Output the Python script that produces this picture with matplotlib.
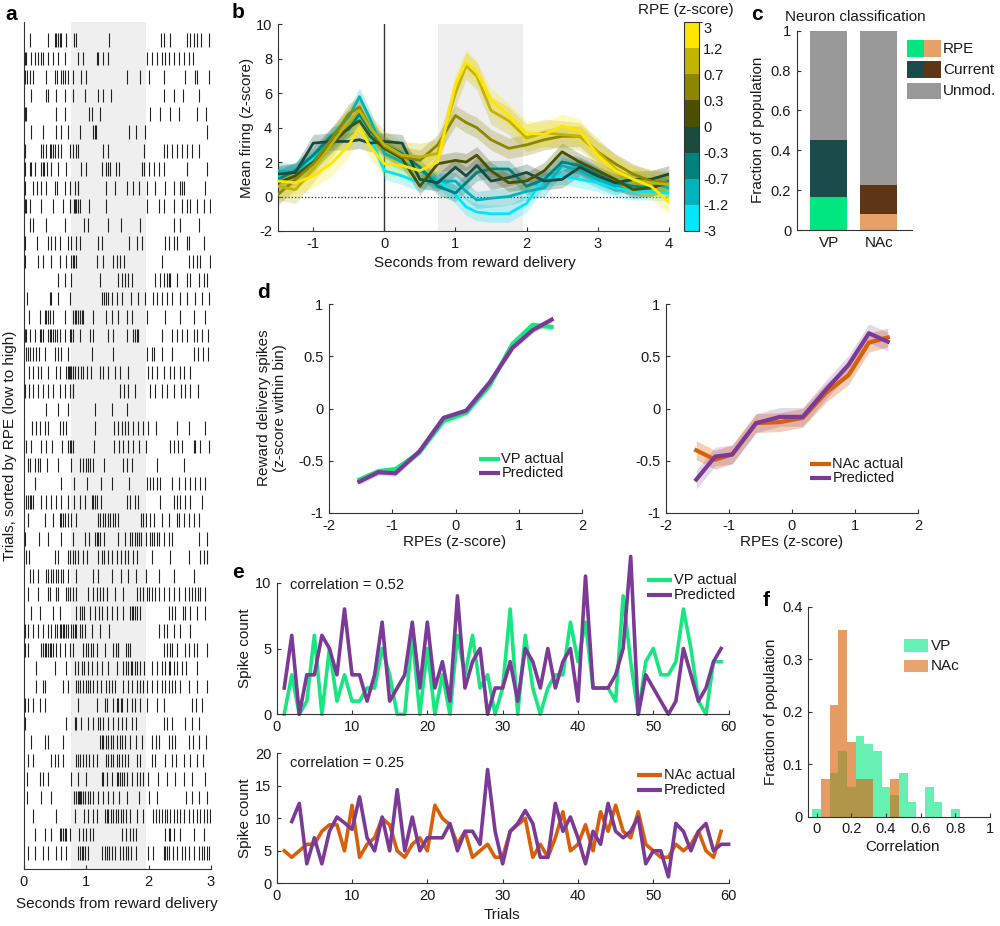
import numpy as np
import matplotlib
matplotlib.use('Agg')
import matplotlib.pyplot as plt
from matplotlib.lines import Line2D
from matplotlib.patches import Rectangle
from matplotlib.colors import ListedColormap, BoundaryNorm
import matplotlib.cm as cm

plt.rcParams['font.family'] = ['Liberation Sans', 'DejaVu Sans']
plt.rcParams['font.size'] = 10
plt.rcParams['axes.unicode_minus'] = False

# ---------------- DATA ----------------
# Panel a: spike times (s) per trial, trials sorted by RPE (top = first)
spike_trials = [
 [0.09,0.38,0.50,0.52,0.55,0.58,0.60,0.68,0.80,0.83,1.37,2.20,2.24,2.35,2.61,2.66,2.72,2.78,2.84,2.97],
 [0.02,0.04,0.12,0.18,0.23,0.27,0.30,0.39,0.47,0.55,0.66,0.86,0.95,1.17,1.19,1.27,1.34,1.97,2.05,2.13,2.21,2.27,2.33,2.40,2.49,2.57,2.64,2.71],
 [0.02,0.05,0.10,0.15,0.36,0.50,0.53,0.60,0.63,0.66,0.71,0.79,0.92,0.99,1.66,1.86,2.00,2.24,2.58,2.74,2.78,2.97],
 [0.12,0.36,0.39,0.51,0.66,0.79,0.98,1.19,1.27,1.40,2.25,2.40,2.55,2.80],
 [0.02,0.04,0.52,0.66,1.05,1.09,1.22,2.02,2.18,2.34,2.49,2.77,2.92],
 [0.12,0.30,0.52,0.60,0.71,0.90,1.11,1.14,1.16,1.69,1.80,1.94,2.94],
 [0.02,0.28,0.31,0.36,0.42,0.44,0.47,0.50,0.55,0.60,0.74,0.79,0.83,0.87,1.26,1.34,1.93,2.24,2.29,2.37,2.45,2.53,2.61,2.69,2.80],
 [0.02,0.09,0.12,0.18,0.28,0.30,0.32,0.37,0.44,0.55,0.68,0.91,0.99,1.25,1.32,1.34,1.38,1.48,1.53,1.89,1.93,2.01,2.08,2.17,2.24,2.62,2.94],
 [0.02,0.14,0.21,0.27,0.36,0.50,0.53,0.66,0.73,0.82,0.86,0.87,1.32,1.46,1.66,1.75,1.85,1.97,2.10,2.26,2.40,2.50,2.53,2.56,2.90],
 [0.02,0.04,0.10,0.27,0.47,0.62,0.74,0.80,0.82,0.84,0.87,0.90,1.05,1.32,1.97,2.17,2.25,2.40,2.53,2.61,2.66,2.77,2.88,2.99],
 [0.09,0.15,0.36,0.66,0.96,1.03,1.35,1.55,1.86,2.41,2.50,2.80],
 [0.02,0.21,0.39,0.44,0.50,0.58,0.71,0.76,0.84,0.90,1.19,1.25,1.69,1.81,1.90,2.26,2.32,2.40,2.45,2.61,2.65,2.89],
 [0.02,0.23,0.31,0.44,0.58,0.68,0.75,0.78,0.80,0.84,1.17,1.27,1.43,1.49,1.54,1.60,2.21,2.65,2.71,2.77,2.82,2.99],
 [0.55,0.66,0.75,1.22,1.50,1.57,1.62,1.67,1.73,2.10,2.18,2.24,2.29,2.32,2.34,2.45,2.61,2.66,2.81,2.89,2.94],
 [0.05,0.41,0.44,0.55,0.74,1.25,1.28,1.32,1.35,1.41,1.49,1.57,1.71,1.83,1.94,2.07,2.14,2.21,2.29,2.37,2.50,2.61,2.74,2.85,2.97],
 [0.08,0.26,0.34,0.36,0.39,0.42,0.47,0.66,0.78,0.82,0.84,0.87,0.90,0.93,0.95,1.11,1.31,1.41,1.50,1.65,1.73,1.98,2.26,2.50,2.72,2.90],
 [0.02,0.04,0.10,0.18,0.26,0.28,0.31,0.39,0.42,0.44,0.47,0.50,0.53,0.58,0.66,0.74,0.76,0.79,0.90,1.06,1.11,1.35,1.43,1.65,1.75,1.78,1.81,1.83,2.21,2.37,2.45,2.53,2.61,2.72,2.77,2.85,2.95],
 [0.03,0.06,0.10,0.15,0.19,0.24,0.33,0.50,0.55,0.60,0.70,1.09,1.43,1.97,2.05,2.09,2.21,2.38,2.72,2.79,2.87,2.95],
 [0.08,0.15,0.23,0.27,0.39,0.52,0.58,0.68,0.70,0.72,0.74,0.75,0.78,0.82,0.87,0.91,0.95,1.01,1.07,1.22,1.27,1.34,1.46,1.54,1.67,1.99,2.06,2.14,2.25,2.34,2.41,2.50,2.56,2.66],
 [0.02,0.08,0.15,0.23,0.31,0.39,0.47,0.58,0.66,0.74,0.78,0.79,1.54,1.61,1.67,1.78,2.02,2.10,2.21,2.29,2.40,2.52,2.58,2.66,2.79],
 [0.36,0.55,0.71,1.14,1.41,1.65],
 [0.13,0.19,0.26,0.33,0.39,0.58,0.63,0.68,1.14,1.45,1.51,1.57,1.62,1.67,1.75,1.83,1.91,1.99,2.11,2.46,2.64,2.90],
 [0.04,0.11,0.27,0.36,0.45,0.61,0.71,0.74,0.76,0.79,1.13,1.45,1.52,1.59,1.67,1.75,1.84,1.95,2.34,2.40,2.47,2.54,2.72,2.75,2.82,2.97],
 [0.06,0.10,0.18,0.22,0.26,0.37,0.55,0.75,0.90,0.95,0.99,1.02,1.06,1.11,1.29,1.59,1.65,1.73,2.14,2.56],
 [0.18,0.59,0.81,1.01,1.24,1.41,1.68,1.98,2.02,2.07,2.13,2.18,2.37,2.49,2.58,2.66,2.74,2.82,2.91],
 [0.03,0.06,0.10,0.12,0.15,0.28,0.36,0.44,0.52,0.60,0.71,0.81,0.90,0.98,1.09,1.11,1.14,1.17,1.24,1.65,1.70,1.78,1.83,2.18,2.40,2.45,2.50,2.58,2.66,2.85],
 [0.06,0.34,0.47,0.58,0.60,0.63,0.66,0.71,0.76,0.84,1.18,1.22,1.26,1.30,1.34,1.38,1.42,1.46,1.51,1.88,1.91,1.95,2.02,2.09,2.21,2.32,2.45,2.49,2.56,2.64,2.72,2.80],
 [0.02,0.24,0.39,0.60,0.79,0.98,1.04,1.14,1.17,1.19,1.22,1.29,1.51,1.62,1.70,1.74,1.78,1.82,1.84,1.88,1.95,2.02,2.05,2.09,2.13,2.17,2.24,2.32,2.37,2.80,2.93],
 [0.03,0.08,0.49,0.55,0.70,0.74,0.78,0.82,0.87,0.95,1.01,1.19,1.25,1.29,1.34,1.41,1.49,1.56,1.62,1.67,1.75,1.82,2.05,2.34,2.64,2.82,2.88,2.93],
 [0.10,0.15,0.22,0.35,0.39,0.43,0.47,0.51,0.55,0.59,0.63,0.71,0.84,1.11,1.19,1.41,1.56,1.67,1.79,1.95,2.17,2.40,2.73],
 [0.06,0.23,0.39,0.42,0.52,0.55,0.68,0.71,0.74,0.78,0.84,1.03,1.10,1.17,1.22,1.27,1.33,1.46,1.59,1.81,1.86,1.91,1.97,2.01,2.05,2.10,2.17,2.24,2.32,2.40,2.48,2.58,2.64,2.69,2.74,2.79,2.82,2.90],
 [0.12,0.26,0.47,0.58,0.83,0.90,0.93,0.96,1.06,1.14,1.21,1.25,1.33,1.41,1.49,1.59,1.70,1.73,1.75,1.78,1.81,1.86,2.32,2.37,2.43,2.55,2.58,2.66,2.77,2.90],
 [0.02,0.07,0.15,0.23,0.30,0.39,0.44,0.50,0.53,0.57,0.59,0.62,0.64,0.67,0.71,0.75,0.78,0.82,0.84,0.90,0.93,0.98,1.09,1.22,1.37,2.17,2.24,2.29,2.40,2.50,2.66],
 [0.02,0.07,0.28,0.31,0.34,0.36,0.39,0.42,0.44,0.47,0.51,0.58,0.66,0.74,0.79,0.95,0.99,1.03,1.07,1.11,1.17,1.30,1.43,1.48,1.50,1.51,1.64,1.67,1.70,2.25,2.29,2.34,2.38,2.45,2.58,2.64,2.72,2.77,2.94],
 [0.19,0.50,0.68,0.82,0.86,0.93,0.96,1.02,1.09,1.17,1.25,1.35,1.49,1.59,1.64,1.67,1.71,1.74,1.78,1.81,1.86,1.93,2.05,2.14,2.22,2.26,2.32,2.35,2.40,2.45,2.53,2.60,2.77],
 [0.19,0.31,0.34,0.63,0.71,0.83,0.87,0.90,0.95,0.99,1.02,1.06,1.10,1.17,1.23,1.32,1.37,1.41,1.46,1.59,1.67,1.74,1.81,1.86,1.91,1.98,2.05,2.13,2.21,2.26,2.32,2.37,2.42,2.50,2.64,2.77,2.93],
 [0.02,0.07,0.15,0.25,0.34,0.86,1.17,1.30,1.33,1.43,1.49,1.51,1.55,1.58,1.65,1.73,1.78,1.86,1.97,2.13,2.24,2.69,2.76,2.85],
 [0.02,0.67,0.82,0.84,0.92,1.02,1.10,1.18,1.22,1.27,1.35,1.43,1.50,1.57,1.64,1.73,1.80,2.24,2.29,2.37,2.58,2.69,2.81],
 [0.11,0.34,0.39,0.63,1.22,1.25,1.27,1.32,1.35,1.39,1.43,1.49,1.54,1.58,1.62,1.70,1.80,1.89,2.05,2.12,2.17,2.32,2.37,2.42,2.65,2.71,2.81,2.92],
 [0.07,0.15,0.44,0.50,0.55,0.63,0.83,0.87,0.90,0.94,0.99,1.05,1.10,1.17,1.32,1.35,1.39,1.43,1.49,1.53,1.58,1.62,1.67,1.81,1.86,2.05,2.10,2.26,2.37,2.44,2.56,2.66,2.77,2.87],
 [0.05,0.26,0.31,0.39,0.76,0.87,0.99,1.25,1.27,1.33,1.41,1.49,1.51,1.54,1.57,1.60,1.65,1.73,1.81,1.86,1.91,1.99,2.15,2.29,2.42,2.56,2.69,2.90],
 [0.05,0.27,0.43,0.80,0.83,0.86,0.88,0.90,0.92,0.95,0.98,1.02,1.06,1.11,1.18,1.26,1.34,1.43,1.53,1.65,1.85,2.01,2.14,2.60,2.69,2.80,2.93],
 [0.15,0.52,0.82,0.96,1.03,1.10,1.17,1.30,1.33,1.35,1.39,1.43,1.48,1.51,1.55,1.59,1.64,1.70,1.81,1.91,2.07,2.12,2.17,2.22,2.26,2.30,2.34,2.40,2.45,2.50,2.57,2.64,2.71,2.77,2.82,2.88,2.93,2.98],
 [0.18,0.34,0.44,0.58,0.60,0.63,0.66,0.68,0.73,0.89,0.94,0.99,1.06,1.10,1.57,1.64,1.70,1.75,1.80,2.26,2.32,2.35,2.40,2.50,2.72,2.89],
 [0.07,0.18,0.30,0.39,0.52,0.60,0.67,0.86,0.90,0.93,0.95,0.98,1.02,1.25,1.30,1.33,1.37,1.41,1.46,1.54,1.59,1.64,1.67,1.71,1.80,1.99,2.07,2.24,2.26,2.29,2.32,2.39,2.45,2.53,2.58,2.64,2.72,2.80,2.85,2.89,2.93,2.97],
]
reward_window = [0.75, 1.95]

# Panel b: mean firing per RPE bin (top band first)
b_time = [-1.5,-1.25,-1.0,-0.75,-0.5,-0.35,-0.2,0.0,0.25,0.5,0.75,1.0,1.15,1.3,1.5,1.75,2.0,2.25,2.5,2.75,3.0,3.25,3.5,3.75,4.0]
b_rpe_high  = [0.9,0.8,1.2,1.9,3.0,4.0,2.9,1.9,1.8,1.5,2.0,6.5,7.8,7.2,5.6,4.7,3.7,3.6,4.1,3.8,2.4,1.5,1.0,0.6,-0.3]
b_rpe_1p2   = [0.6,0.4,1.6,3.0,4.4,5.0,4.0,3.0,2.4,2.3,2.5,6.0,7.6,7.0,5.0,4.4,3.4,3.7,3.6,3.5,2.6,1.6,1.0,0.8,0.7]
b_rpe_0p7   = [0.1,1.0,1.9,3.3,4.8,5.2,4.0,2.9,2.3,2.1,3.0,4.7,4.3,4.0,3.3,2.8,3.0,3.3,3.5,3.5,2.6,1.9,1.3,0.9,0.8]
b_rpe_0p3   = [0.8,1.2,2.0,3.0,4.0,4.4,3.5,2.8,2.2,0.6,1.9,2.1,2.0,2.4,1.5,0.8,0.9,1.5,2.6,2.0,1.5,1.0,0.4,0.5,0.8]
b_rpe_0     = [1.3,1.4,3.1,3.2,3.2,3.3,3.1,3.2,3.1,1.0,0.8,1.7,1.2,1.8,0.9,1.1,1.4,0.9,1.0,1.7,1.2,0.8,1.0,1.0,1.3]
b_rpe_m0p3  = [1.0,1.5,2.4,3.5,3.9,4.8,3.8,3.0,2.5,1.7,0.6,0.2,0.8,1.4,1.6,1.6,0.6,1.0,2.0,1.8,1.3,0.8,0.6,0.5,0.9]
b_rpe_m0p7  = [1.5,1.4,2.0,3.5,4.6,5.8,4.5,2.5,2.0,1.5,0.9,0.9,0.3,-0.2,-0.1,0.0,0.3,0.5,1.8,1.5,1.0,0.6,1.0,0.8,0.5]
b_rpe_low   = [1.2,1.5,2.2,3.0,4.0,4.5,3.5,1.5,1.2,0.8,1.0,0.1,-0.6,-0.9,-1.0,-1.0,-0.4,1.1,1.2,1.0,0.8,0.5,0.3,0.3,0.2]
b_series = [b_rpe_high, b_rpe_1p2, b_rpe_0p7, b_rpe_0p3, b_rpe_0, b_rpe_m0p3, b_rpe_m0p7, b_rpe_low]
b_sem = [0.7, 0.8, 0.6, 0.5, 0.5, 0.5, 0.5, 0.5]
b_colors = ['#FFE600', '#C3B400', '#8C8700', '#4B5000', '#1A4B3C', '#00827D', '#00B4BE', '#00E6FA']
cbar_labels = ['3', '1.2', '0.7', '0.3', '0', '-0.3', '-0.7', '-1.2', '-3']

# Panel c
c_regions = ['VP', 'NAc']
c_rpe = [0.165, 0.079]
c_current = [0.288, 0.147]
c_rpe_colors = ['#00E680', '#E8A067']
c_cur_colors = ['#1B4B4A', '#5E3515']
c_unmod_color = '#999999'

# Panel d
d_rpe = [-1.52, -1.22, -0.95, -0.57, -0.19, 0.17, 0.54, 0.90, 1.22, 1.52]
d_vp_actual = [-0.68, -0.60, -0.58, -0.42, -0.12, -0.04, 0.22, 0.62, 0.80, 0.78]
d_vp_pred   = [-0.70, -0.61, -0.62, -0.41, -0.09, -0.02, 0.25, 0.58, 0.75, 0.85]
d_vp_sem = 0.03
d_nac_actual = [-0.40, -0.49, -0.44, -0.14, -0.13, -0.09, 0.15, 0.32, 0.63, 0.68]
d_nac_pred   = [-0.68, -0.46, -0.44, -0.14, -0.08, -0.08, 0.18, 0.42, 0.72, 0.64]
d_nac_sem = 0.09

# Panel e
e_vp_actual = [0,3,0,1,6,0,5,1,3,1, 1,2,2,5,3,0,0,6,0,5, 0,3,0,6,3,6,2,3,0,2,
               8,0,6,2,0,2,3,3,7,4, 7,2,2,2,1,9,4,0,4,5, 3,3,4,8,5,1,0,4,4]
e_vp_pred = [2,6,0,3,3,6,5,3,8,3, 3,1,3,7,1,2,3,7,2,7, 2,4,1,9,2,4,5,0,2,2,
             4,1,5,4,2,5,2,4,5,1, 10.5,2,2,2,3,5,12,0,3,2, 1,0,1,5,3,1,2,4,5]
e_nac_actual = [5,4,5,6,6,8,9,9,5,12, 4,6,7,10,9,5,4,6,7,5, 12,10,9,6,8,4,5,6,4,4,
                8,9,10,4,6,4,7,11,5,6, 9,5,11,8,12,8,7,11,6,5, 4,4,6,5,6,8,5,4,8]
e_nac_pred = [9.5,12.3,3,7,3,8,10.2,9.3,8.3,13.3, 7,5,10.2,5,14.4,5,10.2,5,7,7,
              7,9.2,5,8,8,6,17.5,8,3,8, 9.2,11.2,9.2,4,4,12.3,8,10.2,7,3,
              8,6,12.3,8,7,8,10.2,3,5,5, 1,9.2,8,5,8,9.2,5,6,6]
e_vp_corr = 0.52
e_nac_corr = 0.25

# Panel f
f_centers = [0.0,0.05,0.10,0.15,0.20,0.25,0.30,0.35,0.40,0.45,0.50,0.55,0.60,0.65,0.70,0.75,0.80]
f_vp  = [0.014,0,0.083,0.125,0.056,0.153,0.139,0.125,0.056,0.042,0.083,0.028,0,0.056,0.028,0,0.014]
f_nac = [0,0.071,0.214,0.357,0.143,0.071,0.071,0,0,0.071,0,0,0,0,0,0,0]

GREEN = '#17E681'
PURPLE = '#7B3A96'
ORANGE = '#D9600A'
TXT = '#1a1a1a'

# ---------------- FIGURE ----------------
W, H = 1000, 926
fig = plt.figure(figsize=(10, 9.26), dpi=100)

def add_ax(l, t, r, b):
    return fig.add_axes([l / W, 1 - b / H, (r - l) / W, (b - t) / H])

def ftext(x, y, s, **kw):
    kw.setdefault('ha', 'center'); kw.setdefault('va', 'center')
    kw.setdefault('color', TXT)
    return fig.text(x / W, 1 - y / H, s, **kw)

def style(ax):
    for s in ['top', 'right']:
        ax.spines[s].set_visible(False)
    for s in ['left', 'bottom']:
        ax.spines[s].set_color('#333333'); ax.spines[s].set_linewidth(0.8)
    ax.tick_params(direction='in', length=3, width=0.8, color='#333333',
                   labelsize=10.5, pad=4, labelcolor=TXT)

def leg_line(x0, x1, y, color, label, lw=3.0, fs=10.5):
    fig.add_artist(Line2D([x0 / W, x1 / W], [1 - y / H, 1 - y / H], color=color,
                          lw=lw, transform=fig.transFigure, solid_capstyle='butt'))
    ftext(x1 + 1.5, y, label, ha='left', fontsize=fs)

def frect(x0, y0, x1, y1, color):
    fig.add_artist(Rectangle((x0 / W, 1 - y1 / H), (x1 - x0) / W, (y1 - y0) / H,
                             color=color, lw=0, transform=fig.transFigure))

# ----- panel a -----
axa = add_ax(24, 22, 211, 869)
style(axa)
axa.axvspan(reward_window[0], reward_window[1], color='#efefef', lw=0, zorder=0)
for i, row in enumerate(spike_trials):
    axa.vlines(row, i + 1 - 0.37, i + 1 + 0.37, color='#222222', lw=0.8)
axa.set_xlim(0, 3)
axa.set_ylim(45.87, 0.03)
axa.set_yticks([])
axa.set_xticks([0, 1, 2, 3])
ftext(117, 904, 'Seconds from reward delivery', fontsize=11)
ftext(10, 446, 'Trials, sorted by RPE (low to high)', fontsize=11, rotation=90)
ftext(11, 15, 'a', fontsize=15, fontweight='bold', color='black')

# ----- panel b -----
axb = add_ax(277.7, 24.3, 668.7, 231)
style(axb)
axb.axvspan(reward_window[0], reward_window[1], color='#efefef', lw=0, zorder=0)
axb.axhline(0, color='#222222', lw=0.9, ls=':', zorder=1)
axb.axvline(0, color='#333333', lw=1.0, zorder=1)
bt = np.array(b_time)
for vals, sem, col in list(zip(b_series, b_sem, b_colors))[::-1]:
    v = np.array(vals)
    axb.fill_between(bt, v - sem, v + sem, color=col, alpha=0.25, lw=0, zorder=2)
    axb.plot(bt, v, color=col, lw=2.0, zorder=3)
axb.set_xlim(-1.5, 4)
axb.set_ylim(-2, 10)
axb.set_xticks([-1, 0, 1, 2, 3, 4])
axb.set_yticks([-2, 0, 2, 4, 6, 8, 10])
ftext(475, 263, 'Seconds from reward delivery', fontsize=11)
ftext(247, 128, 'Mean firing (z-score)', fontsize=11, rotation=90)
ftext(238, 13, 'b', fontsize=15, fontweight='bold', color='black')

# colorbar
axcb = add_ax(684, 22, 699, 231)
cmap = ListedColormap(b_colors[::-1])
nb = len(b_colors)
norm = BoundaryNorm(np.arange(nb + 1), nb)
cb = fig.colorbar(cm.ScalarMappable(norm=norm, cmap=cmap), cax=axcb)
cb.set_ticks(list(np.arange(nb)) + [nb - 0.2])
cb.ax.set_yticklabels(cbar_labels[::-1])
cb.outline.set_linewidth(0.8)
cb.outline.set_edgecolor('#333333')
cb.ax.tick_params(length=0, labelsize=10.5, pad=3, labelcolor=TXT)
ftext(686, 10, 'RPE (z-score)', fontsize=11)

# ----- panel c -----
axc = add_ax(796.7, 30.7, 911.7, 230)
style(axc)
xpos = [1, 2]
unmod = [1 - a - b for a, b in zip(c_rpe, c_current)]
axc.bar(xpos, c_rpe, width=0.75, color=c_rpe_colors, lw=0)
axc.bar(xpos, c_current, width=0.75, bottom=c_rpe, color=c_cur_colors, lw=0)
axc.bar(xpos, unmod, width=0.75, bottom=[a + b for a, b in zip(c_rpe, c_current)],
        color=c_unmod_color, lw=0)
axc.set_xlim(0.36, 2.66)
axc.set_ylim(0, 1)
axc.set_xticks(xpos)
axc.set_xticklabels(c_regions)
axc.tick_params(axis='x', length=0, labelsize=11)
axc.set_yticks([0, 0.2, 0.4, 0.6, 0.8, 1])
axc.set_yticklabels(['0', '0.2', '0.4', '0.6', '0.8', '1'])
ftext(855, 17, 'Neuron classification', fontsize=11)
ftext(758, 130, 'Fraction of population', fontsize=11, rotation=90)
ftext(757, 15, 'c', fontsize=15, fontweight='bold', color='black')
frect(907, 40, 924, 57, c_rpe_colors[0]); frect(924, 40, 941, 57, c_rpe_colors[1])
frect(907, 61, 924, 78, c_cur_colors[0]); frect(924, 61, 941, 78, c_cur_colors[1])
frect(907, 83, 941, 99, c_unmod_color)
ftext(943, 49, 'RPE', ha='left', fontsize=11)
ftext(943, 70, 'Current', ha='left', fontsize=11)
ftext(943, 91, 'Unmod.', ha='left', fontsize=11)

# ----- panel d -----
dx = np.array(d_rpe)
def dpanel(box, actual, pred, sem, col, leg, legx, legy):
    ax = add_ax(*box)
    style(ax)
    a = np.array(actual); p = np.array(pred)
    ax.fill_between(dx, a - sem, a + sem, color=col, alpha=0.3, lw=0)
    ax.fill_between(dx, p - sem, p + sem, color=PURPLE, alpha=0.2, lw=0)
    ax.plot(dx, a, color=col, lw=3.0)
    ax.plot(dx, p, color=PURPLE, lw=3.0)
    ax.set_xlim(-2, 2); ax.set_ylim(-1, 1)
    ax.set_xticks([-2, -1, 0, 1, 2])
    ax.set_yticks([-1, -0.5, 0, 0.5, 1])
    ax.set_yticklabels(['-1', '-0.5', '0', '0.5', '1'])
    leg_line(legx, legx + 21, legy, col, leg)
    leg_line(legx, legx + 21, legy + 14, PURPLE, 'Predicted')
    return ax

dpanel((329, 304, 582, 513), d_vp_actual, d_vp_pred, d_vp_sem, GREEN, 'VP actual', 479, 459)
dpanel((666, 304, 918, 513), d_nac_actual, d_nac_pred, d_nac_sem, ORANGE, 'NAc actual', 810, 464)
ftext(455, 542, 'RPEs (z-score)', fontsize=11)
ftext(792, 542, 'RPEs (z-score)', fontsize=11)
ftext(272, 408, 'Reward delivery spikes\n(z-score within bin)', fontsize=11,
      rotation=90, multialignment='center', linespacing=1.1)
ftext(263, 292, 'd', fontsize=15, fontweight='bold', color='black')

# ----- panel e -----
tr_a = np.arange(1, len(e_vp_actual) + 1)
axe1 = add_ax(276.7, 582.7, 728.6, 714.3)
style(axe1)
axe1.plot(tr_a, e_vp_actual, color=GREEN, lw=2.6, clip_on=False)
axe1.plot(tr_a, e_vp_pred, color=PURPLE, lw=2.6, clip_on=False)
axe1.set_xlim(0, 60); axe1.set_ylim(0, 10)
axe1.set_xticks(range(0, 61, 10)); axe1.set_yticks([0, 5, 10])
ftext(290, 585, 'correlation = %.2f' % e_vp_corr, ha='left', fontsize=10.5)
leg_line(647, 672, 580, GREEN, 'VP actual', lw=3.0)
leg_line(647, 672, 595, PURPLE, 'Predicted', lw=3.0)
ftext(245, 648, 'Spike count', fontsize=11, rotation=90)

axe2 = add_ax(276.7, 753.3, 728.6, 883.3)
style(axe2)
axe2.plot(np.arange(1, len(e_nac_actual) + 1), e_nac_actual, color=ORANGE, lw=2.6)
axe2.plot(np.arange(2, len(e_nac_pred) + 2), e_nac_pred, color=PURPLE, lw=2.6, clip_on=False)
axe2.set_xlim(0, 60); axe2.set_ylim(0, 20)
axe2.set_xticks(range(0, 61, 10)); axe2.set_yticks([0, 5, 10, 15, 20])
ftext(290, 763, 'correlation = %.2f' % e_nac_corr, ha='left', fontsize=10.5)
leg_line(637, 662, 775, ORANGE, 'NAc actual', lw=3.0)
leg_line(637, 662, 790, PURPLE, 'Predicted', lw=3.0)
ftext(245, 818, 'Spike count', fontsize=11, rotation=90)
ftext(502, 915, 'Trials', fontsize=11)
ftext(238, 572, 'e', fontsize=15, fontweight='bold', color='black')

# ----- panel f -----
axf = add_ax(808, 607, 990, 816.7)
style(axf)
axf.bar(f_centers, f_vp, width=0.05, color='#00E680', alpha=0.6, lw=0, label='VP')
axf.bar(f_centers, f_nac, width=0.05, color='#D9660F', alpha=0.65, lw=0, label='NAc')
axf.set_xlim(-0.05, 1); axf.set_ylim(0, 0.4)
axf.set_xticks([0, 0.2, 0.4, 0.6, 0.8, 1])
axf.set_xticklabels(['0', '0.2', '0.4', '0.6', '0.8', '1'])
axf.set_yticks([0, 0.1, 0.2, 0.3, 0.4])
axf.set_yticklabels(['0', '0.1', '0.2', '0.3', '0.4'])
frect(904, 639, 928, 652, '#66F0B3')
frect(904, 660, 928, 672, '#E8A36F')
ftext(931, 646, 'VP', ha='left', fontsize=11)
ftext(931, 666, 'NAc', ha='left', fontsize=11)
ftext(903, 847, 'Correlation', fontsize=11)
ftext(771, 712, 'Fraction of population', fontsize=11, rotation=90)
ftext(766, 600, 'f', fontsize=15, fontweight='bold', color='black')

fig.savefig('out.png', dpi=100, facecolor='white')
